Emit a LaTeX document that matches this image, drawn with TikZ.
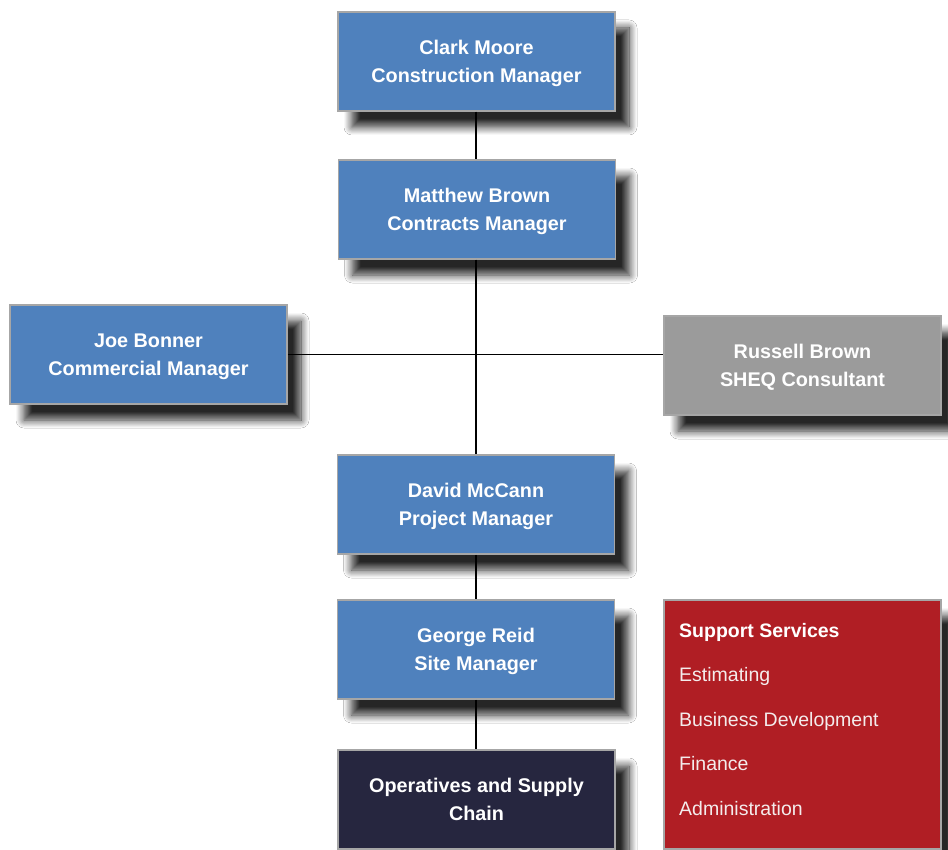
\documentclass[tikz,border=0pt]{standalone}
\usepackage{fontspec}
\setmainfont{Liberation Sans}
\usetikzlibrary{shadows.blur}
\definecolor{boxblue}{HTML}{4F81BD}
\definecolor{boxgrey}{HTML}{9B9B9B}
\definecolor{boxnavy}{HTML}{26263F}
\definecolor{boxred}{HTML}{B01E24}
\definecolor{edgegrey}{HTML}{A6A6A6}
\definecolor{softwhite}{HTML}{F4ECEC}
\begin{document}
\begin{tikzpicture}[x=1pt,y=-1pt,
  card/.style={draw=edgegrey, line width=1.5pt, minimum width=277pt, minimum height=99pt,
    text=white, font=\fontsize{19.8}{28.5}\selectfont\bfseries, align=center, inner sep=0pt,
    text depth=0pt,
    blur shadow={shadow xshift=14pt, shadow yshift=-16pt, shadow blur radius=8pt,
      shadow blur steps=12, shadow opacity=85}},
  link/.style={line width=1.9pt, black},
  listtext/.style={anchor=base west, inner sep=0pt, text=softwhite, font=\fontsize{19.5}{24}\selectfont}]
\useasboundingbox (0,0) rectangle (948,850);
\fill[white] (0,0) rectangle (948,850);
\node[card, fill=boxblue] (clark) at (476.5,61.5) {Clark Moore\\Construction Manager};
\node[card, fill=boxblue] (matthew) at (477,209.5) {Matthew Brown\\Contracts Manager};
\node[card, fill=boxblue] (joe) at (148.5,354.5) {Joe Bonner\\Commercial Manager};
\node[card, fill=boxgrey] (russell) at (802.5,365.5) {Russell Brown\\SHEQ Consultant};
\node[card, fill=boxblue] (david) at (476,504.5) {David McCann\\Project Manager};
\node[card, fill=boxblue] (george) at (476,649.5) {George Reid\\Site Manager};
\node[card, fill=boxnavy] (ops) at (476.5,799.5) {Operatives and Supply\\Chain};
\node[card, fill=boxred, minimum height=249pt] (support) at (802.5,724.5) {};
\node[listtext, text=white, font=\fontsize{19.5}{24}\selectfont\bfseries] (s0) at (679,637) {Support Services};
\node[listtext] (s1) at (679,681.5) {Estimating};
\node[listtext] (s2) at (679,726) {Business Development};
\node[listtext] (s3) at (679,770.5) {Finance};
\node[listtext] (s4) at (679,815) {Administration};
\draw[link] (clark.south -| 476,0) -- (matthew.north -| 476,0);
\draw[link] (matthew.south -| 476,0) -- (david.north -| 476,0);
\draw[link] (david) -- (george);
\draw[link] (george) -- (ops.north -| george.south);
\draw[link] (joe.east) -- (joe.east -| russell.west);
\end{tikzpicture}
\end{document}
